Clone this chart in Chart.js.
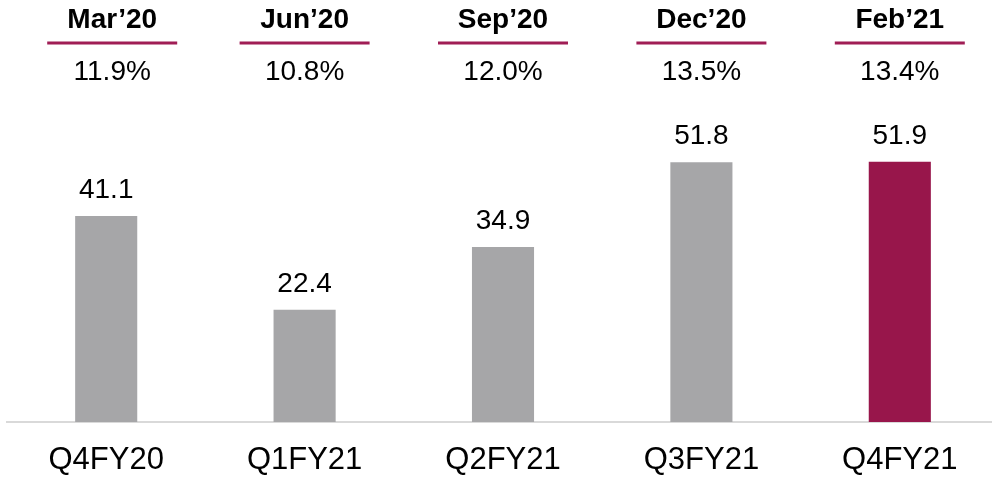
<!DOCTYPE html>
<html lang="en">
<head>
	<meta charset="UTF-8">
	<title>Quarterly results</title>
	<script src="https://cdn.jsdelivr.net/npm/chart.js@4.4.1/dist/chart.umd.min.js"></script>
	<style>
		html, body { margin: 0; padding: 0; background: #fff; overflow: hidden; }
		#wrap { position: relative; width: 1000px; height: 477px; }
	</style>
</head>
<body>
	<div id="wrap">
		<canvas id="grafico_barra"></canvas>
	</div>
	<script>
		// quarters on the axis and the value of each bar
		const quarters = ['Q4FY20', 'Q1FY21', 'Q2FY21', 'Q3FY21', 'Q4FY21'];
		const values = [41.1, 22.4, 34.9, 51.8, 51.9];

		// header row above each bar
		const months = ['Mar\u201920', 'Jun\u201920', 'Sep\u201920', 'Dec\u201920', 'Feb\u201921'];
		const ratios = ['11.9%', '10.8%', '12.0%', '13.5%', '13.4%'];

		const GRAY = '#a6a6a8';
		const MAROON = '#98164b';
		const FONT = '"Liberation Sans", Arial, sans-serif';

		const barColors = values.map((v, i) => i === values.length - 1 ? MAROON : GRAY);

		// draws the month/ratio header and the value over each bar
		const headerPlugin = {
			id: 'header',
			afterDatasetsDraw(chart) {
				const ctx = chart.ctx;
				const xs = chart.scales.x;
				const meta = chart.getDatasetMeta(0);
				ctx.save();
				ctx.textAlign = 'center';
				ctx.textBaseline = 'middle';
				ctx.fillStyle = '#000';
				months.forEach((m, i) => {
					// first column sits a little right of its bar
					const cx = xs.getPixelForValue(i) + (i === 0 ? 6 : 0);
					ctx.font = 'bold 28px ' + FONT;
					ctx.fillText(m, cx, 20);

					ctx.strokeStyle = '#a01d55';
					ctx.lineWidth = 3;
					ctx.beginPath();
					ctx.moveTo(cx - 65, 43);
					ctx.lineTo(cx + 65, 43);
					ctx.stroke();

					ctx.font = '28px ' + FONT;
					ctx.fillText(ratios[i], cx, 72);
				});

				ctx.textBaseline = 'alphabetic';
				ctx.font = '28px ' + FONT;
				meta.data.forEach((bar, i) => {
					ctx.fillText(values[i].toFixed(1), bar.x, bar.y - 18);
				});
				ctx.restore();
			}
		};

		new Chart(document.querySelector('#grafico_barra'), {
			type: 'bar',
			data: {
				labels: quarters,
				datasets: [{
					data: values,
					backgroundColor: barColors,
					borderWidth: 0,
					categoryPercentage: 1,
					barPercentage: 0.313
				}]
			},
			options: {
				responsive: true,
				maintainAspectRatio: false,
				animation: false,
				layout: { padding: { top: 71, left: 7, right: 1, bottom: 0 } },
				plugins: {
					legend: { display: false },
					tooltip: { enabled: false }
				},
				scales: {
					y: {
						display: false,
						min: 0,
						max: 70
					},
					x: {
						grid: { display: false, drawTicks: false },
						border: { display: true, color: '#d9d9d9', width: 2 },
						ticks: {
							color: '#000',
							padding: 20,
							font: { family: FONT, size: 31 }
						},
						afterFit(scale) { scale.height = 55; }
					}
				}
			},
			plugins: [headerPlugin]
		});
	</script>
</body>
</html>
